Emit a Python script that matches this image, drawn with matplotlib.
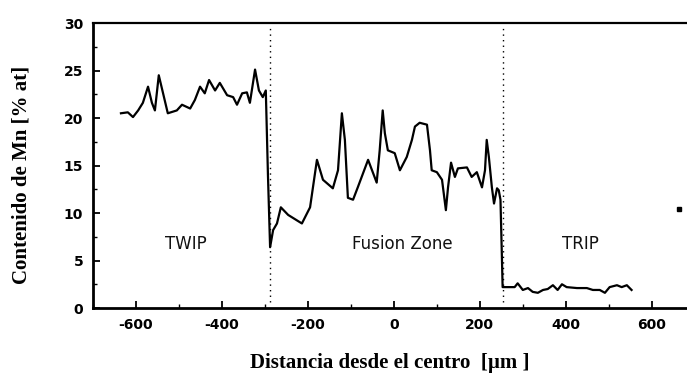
import matplotlib
matplotlib.use("Agg")
import matplotlib.pyplot as plt
from matplotlib.ticker import MultipleLocator

plt.rcParams["axes.unicode_minus"] = False

# Mn content profile (distance in um, Mn in % at)
distance = [-635, -619, -607, -595, -584, -572, -563, -556, -547, -537, -526, -505, -493,
            -474, -463, -451, -440, -430, -416, -405, -388, -374, -365, -353, -342, -335,
            -323, -314, -305, -298, -293, -288, -281, -272, -263, -246, -214, -195, -179,
            -165, -142, -130, -121, -114, -107, -95, -84, -60, -40, -33, -26, -21, -14,
            2, 14, 30, 42, 49, 60, 77, 84, 88, 100, 112, 121, 126, 133, 142, 149, 170,
            181, 193, 205, 212, 216, 221, 228, 233, 240, 244, 248, 251, 253, 258, 281,
            288, 300, 312, 323, 335, 347, 358, 370, 381, 391, 402, 426, 449, 463, 479,
            491, 502, 519, 530, 542, 553]
mn = [20.5, 20.6, 20.1, 20.8, 21.6, 23.3, 21.6, 20.8, 24.5, 22.6, 20.5, 20.8, 21.4,
      21.0, 21.9, 23.3, 22.6, 24.0, 22.9, 23.7, 22.4, 22.2, 21.4, 22.6, 22.7, 21.6,
      25.1, 22.9, 22.2, 22.9, 14.0, 6.4, 8.2, 8.9, 10.6, 9.8, 8.9, 10.6, 15.6,
      13.5, 12.6, 14.5, 20.5, 17.7, 11.6, 11.4, 12.7, 15.6, 13.2, 16.6, 20.8, 18.4, 16.6,
      16.3, 14.5, 15.9, 17.7, 19.1, 19.5, 19.3, 16.6, 14.5, 14.3, 13.5, 10.3, 12.7, 15.3,
      13.8, 14.7, 14.8, 13.8, 14.3, 12.7, 14.5, 17.7, 15.9, 12.7, 11.0, 12.6, 12.4,
      11.4, 6.0, 2.2, 2.2, 2.2, 2.6, 1.9, 2.1, 1.7, 1.6, 1.9, 2.0, 2.4, 1.9, 2.5, 2.2,
      2.1, 2.1, 1.9, 1.9, 1.6, 2.2, 2.4, 2.2, 2.4, 1.9]

boundaries = [-288, 253]
stray_point = (663, 10.4)
regions = ["TWIP", "Fusion Zone", "TRIP"]
region_x = [-483, 19, 433]
region_y = 6.7

x_ticks = [-600, -400, -200, 0, 200, 400, 600]
y_ticks = [0, 5, 10, 15, 20, 25, 30]

fig = plt.figure(figsize=(6.87, 3.87), dpi=100)
ax = fig.add_axes([0.1354, 0.2041, 0.8646, 0.7364])

ax.plot(distance, mn, color="black", lw=1.6)
for b in boundaries:
    ax.plot([b, b], [0.6, 29.6], color="black", lw=1.0, linestyle=(0, (1, 3)))
ax.plot([stray_point[0]], [stray_point[1]], marker="s", ms=2.2, color="black")

for name, rx in zip(regions, region_x):
    ax.text(rx, region_y, name, ha="center", va="center", fontsize=12,
            family="DejaVu Sans", color="#111111")

ax.set_xlim(-700, 682)
ax.set_ylim(0, 30)
ax.set_xticks(x_ticks)
ax.set_yticks(y_ticks)
ax.xaxis.set_minor_locator(MultipleLocator(100))
ax.yaxis.set_minor_locator(MultipleLocator(2.5))
ax.tick_params(which="major", direction="in", length=5, width=1.3, labelsize=10,
               top=False, right=False)
ax.tick_params(axis="x", which="major", pad=7)
ax.tick_params(axis="y", which="major", pad=7)
ax.tick_params(which="minor", direction="in", length=3, width=1.0, top=False, right=False)
for lab in ax.get_xticklabels() + ax.get_yticklabels():
    lab.set_family("DejaVu Sans")
    lab.set_fontweight("bold")

ax.spines["right"].set_visible(False)
for s in ["left", "bottom"]:
    ax.spines[s].set_linewidth(2.0)
ax.spines["top"].set_linewidth(1.6)

fig.text(0.5677, 0.062, "Distancia desde el centro  [\u00b5m ]", ha="center", va="center",
         fontsize=15, family="Liberation Serif", fontweight="bold")
fig.text(0.032, 0.548, "Contenido de Mn [% at]", ha="center", va="center", rotation=90,
         fontsize=15, family="Liberation Serif", fontweight="bold")

fig.savefig("out.png", dpi=100)
